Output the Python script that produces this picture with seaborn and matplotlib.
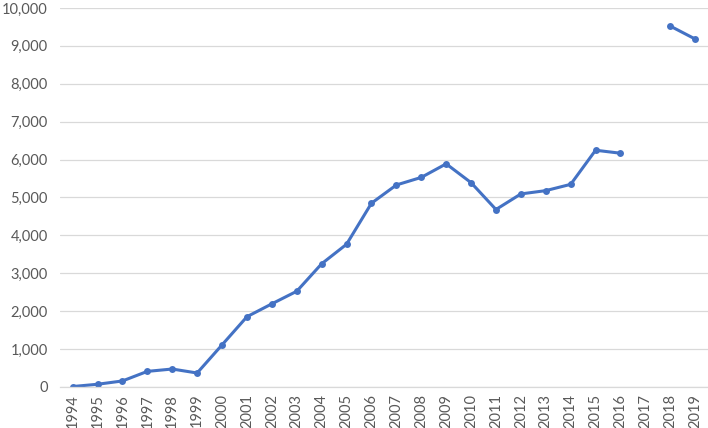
import numpy as np
import pandas as pd
import matplotlib
matplotlib.use('Agg')
import matplotlib.pyplot as plt
import seaborn as sns
from matplotlib.ticker import FuncFormatter

# Values (2017 is missing)
years = [1994, 1995, 1996, 1997, 1998, 1999, 2000, 2001, 2002, 2003, 2004, 2005, 2006,
         2007, 2008, 2009, 2010, 2011, 2012, 2013, 2014, 2015, 2016, 2017, 2018, 2019]
values = [10, 70, 157, 410, 472, 367, 1109, 1852, 2192, 2524, 3249, 3764, 4847,
          5328, 5528, 5886, 5389, 4681, 5092, 5179, 5345, 6245, 6166, np.nan, 9520, 9179]

df = pd.DataFrame({'year': years, 'value': values})
df['pos'] = np.arange(len(df))
# split the line where a value is missing
df['segment'] = df['value'].isna().cumsum()
df = df.dropna()

sns.set_style('white')
plt.rcParams['font.family'] = ['Lato', 'DejaVu Sans']

fig = plt.figure(figsize=(7.08, 4.28), dpi=100)
ax = fig.add_axes([0.085, 0.096, 0.9145, 0.8855])

sns.lineplot(data=df, x='pos', y='value', units='segment', estimator=None,
             color='#4472C4', linewidth=2.2, marker='o', markersize=5,
             markeredgewidth=0, ax=ax)

ax.set_xlim(-0.5, len(years) - 0.5)
ax.set_ylim(0, 10000)
ax.set_yticks(range(0, 10001, 1000))
ax.yaxis.set_major_formatter(FuncFormatter(lambda v, p: f'{int(v):,}'))
ax.set_xticks(range(len(years)))
ax.set_xticklabels([str(y) for y in years], rotation=90)
ax.tick_params(axis='both', length=0, labelsize=10.5, colors='#595959')
ax.tick_params(axis='y', pad=9)
ax.tick_params(axis='x', pad=5)
ax.set_xlabel('')
ax.set_ylabel('')

ax.grid(axis='y', color='#D9D9D9', linewidth=0.9)
ax.set_axisbelow(True)
for side in ['top', 'right', 'left']:
    ax.spines[side].set_visible(False)
ax.spines['bottom'].set_color('#D9D9D9')
ax.spines['bottom'].set_linewidth(0.9)

fig.savefig('out.png', dpi=100)
